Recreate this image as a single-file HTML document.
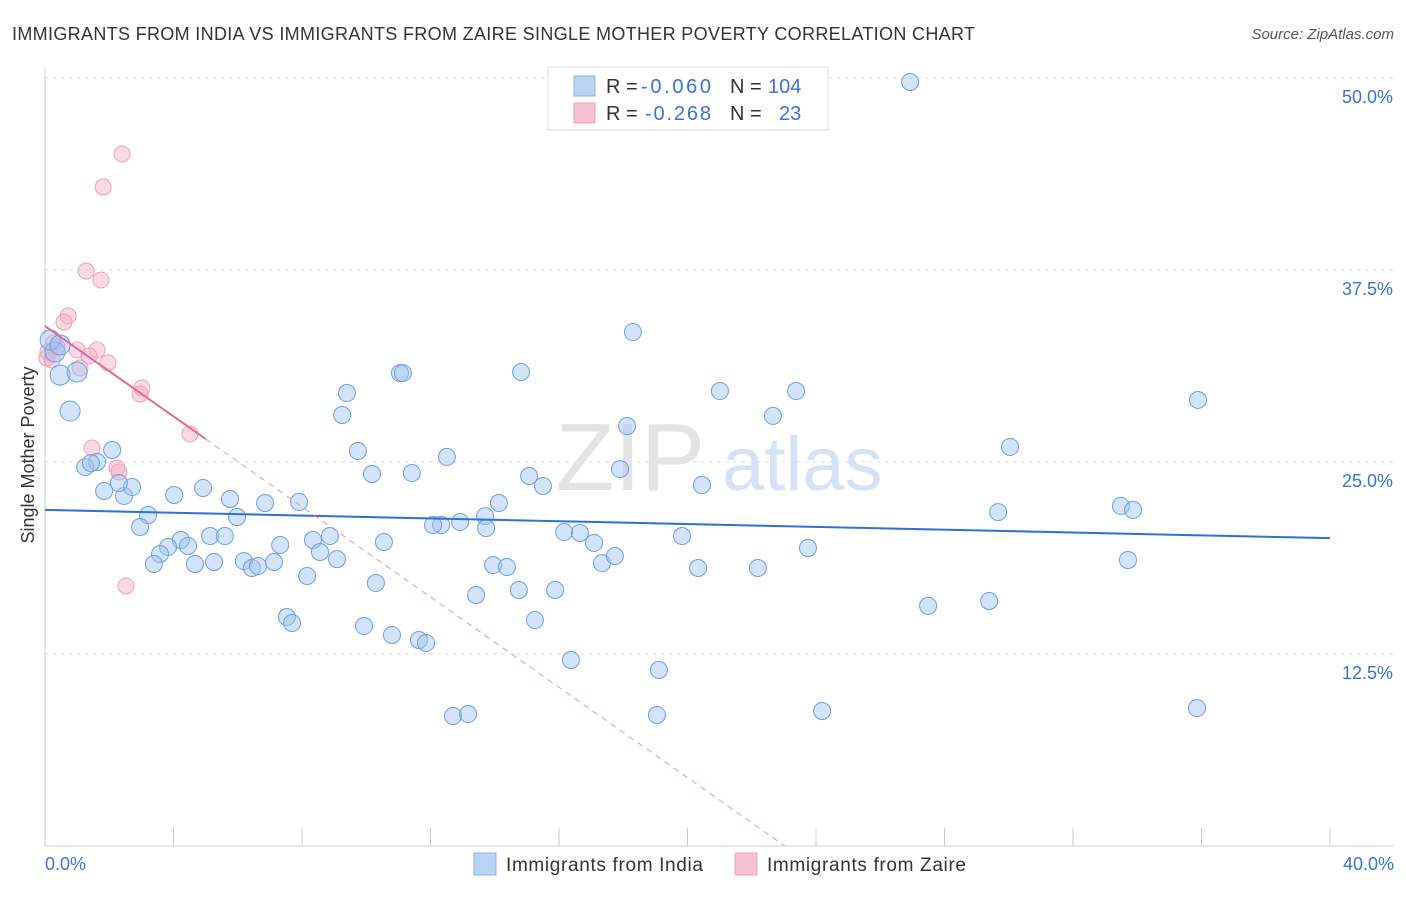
<!DOCTYPE html>
<html><head><meta charset="utf-8"><style>
body{margin:0;background:#fff;font-family:"Liberation Sans",sans-serif;}
svg text{font-family:"Liberation Sans",sans-serif;}
</style></head><body>
<svg id="chart" width="1406" height="892">
<text x="12" y="40" font-size="18" fill="#333" textLength="963">IMMIGRANTS FROM INDIA VS IMMIGRANTS FROM ZAIRE SINGLE MOTHER POVERTY CORRELATION CHART</text>
<text x="1394" y="39" font-size="15" fill="#555" font-style="italic" text-anchor="end">Source: ZipAtlas.com</text>
<g id="grid"></g>
<text x="705" y="490" font-size="96" fill="#e3e3e3" font-family="Liberation Serif" text-anchor="end">ZIP</text>
<text x="722" y="490" font-size="76" fill="#d5e2f3">atlas</text>
<g id="marks"></g>
<text x="34" y="455" font-size="18" fill="#333" transform="rotate(-90 34 455)" text-anchor="middle">Single Mother Poverty</text>
<g>
<rect x="548" y="67" width="280" height="63" fill="#fff" stroke="#ddd"/>
<rect x="574" y="76" width="21" height="20" fill="#b9d3f5" stroke="#8bb2e8"/>
<rect x="574" y="103" width="21" height="20" fill="#f7bfd2" stroke="#eca0bb"/>
<text x="606" y="93" font-size="20" fill="#333">R = <tspan fill="#3a72d4" x="641" textLength="70">-0.060</tspan><tspan x="730">N = </tspan><tspan fill="#3a72d4" x="768">104</tspan></text>
<text x="606" y="120" font-size="20" fill="#333">R = <tspan fill="#3a72d4" x="645" textLength="66">-0.268</tspan><tspan x="730">N = </tspan><tspan fill="#3a72d4" x="779">23</tspan></text>
</g>
<g>
<rect x="474" y="853" width="22" height="22" fill="#b9d3f5" stroke="#8bb2e8"/>
<text x="506" y="871" font-size="19" fill="#333" textLength="197">Immigrants from India</text>
<rect x="735" y="853" width="22" height="22" fill="#f7bfd2" stroke="#eca0bb"/>
<text x="767" y="871" font-size="19" fill="#333" textLength="199">Immigrants from Zaire</text>
</g>
</svg>
<script>
const indiaX=[26.93,18.30,11.05,11.14,14.82,21.01,23.38,9.40,9.25,22.66,35.89,18.12,9.74,12.51,30.04,17.90,10.18,11.42,15.07,15.50,20.45,2.09,1.62,1.25,1.43,1.84,2.46,2.71,2.30,4.02,4.92,5.76,6.85,7.91,14.13,13.70,12.92,12.33,12.08,13.73,3.21,2.96,5.98,16.16,16.65,17.09,19.83,29.67,33.49,33.87,4.23,5.14,5.60,3.83,4.45,3.58,3.39,4.67,5.26,6.19,6.44,6.63,7.13,7.32,8.34,8.87,8.56,9.09,10.55,8.16,10.30,13.95,14.38,13.42,14.75,15.88,17.34,17.74,20.33,22.19,23.75,33.71,7.53,7.69,9.93,10.80,11.64,11.86,15.25,27.49,29.39,16.37,19.11,12.70,13.17,19.05,24.19,35.86,0.78,0.47,1.00,0.31,0.16,0.47];
const indiaY=[49.74,33.46,30.79,30.79,30.86,29.62,29.62,29.49,28.06,28.0,29.04,27.34,25.72,25.33,25.98,24.54,24.22,24.28,24.09,23.44,23.50,25.78,25.0,24.67,24.93,23.11,22.79,23.37,23.63,22.85,23.31,22.59,22.33,22.40,22.33,21.48,21.09,20.90,20.90,20.70,21.55,20.77,21.42,20.44,20.38,19.73,20.18,21.74,22.14,21.88,19.92,20.18,20.18,19.47,19.53,19.01,18.36,18.36,18.49,18.55,18.10,18.23,18.49,19.60,19.92,20.18,19.14,18.68,19.79,17.58,17.12,18.29,18.16,16.34,16.67,16.67,18.42,18.88,18.10,18.10,19.40,18.62,14.91,14.52,14.32,13.74,13.41,13.22,14.71,15.63,15.95,12.11,11.46,8.46,8.59,8.53,8.79,8.98,28.32,30.66,30.86,32.16,32.94,32.62];
const zaireX=[2.40,1.81,1.28,1.74,0.72,0.59,0.28,0.09,0.37,1.00,1.62,1.37,1.96,1.09,3.02,2.96,4.51,1.46,2.24,2.30,2.52,0.06,0.22];
const zaireY=[45.05,42.90,37.43,36.85,34.51,34.11,32.75,32.16,32.49,32.29,32.29,31.90,31.45,31.12,29.82,29.43,26.82,25.91,24.61,24.35,16.93,31.77,31.64];
const yTicks=[12.5,25.0,37.5,50.0];
const xTickVals=[0,4,8,12,16,20,24,28,32,36,40];
const indiaTrend=[21.88,-0.046];
const zaireTrend=[33.85,-1.47];
const NS='http://www.w3.org/2000/svg';
const sx=v=>45+v*32.125, sy=v=>846-v*15.36;
function mk(t,a,p){const e=document.createElementNS(NS,t);for(const k in a)e.setAttribute(k,a[k]);p.appendChild(e);return e;}
const g=document.getElementById('grid'),m=document.getElementById('marks');
yTicks.forEach(v=>{const l=mk('line',{x1:45,x2:1394,y1:sy(v),y2:sy(v),stroke:'#ddd','stroke-dasharray':'4 4'},g);


const t=mk('text',{x:1393,y:sy(v)+25,'font-size':18,fill:'#3a72d4','text-anchor':'end'},g);t.textContent=v.toFixed(1)+'%';

});
mk('line',{x1:45,x2:1394,y1:846,y2:846,stroke:'#ccc'},g);
mk('line',{x1:45,x2:45,y1:68,y2:846,stroke:'#ccc'},g);
xTickVals.forEach(v=>{const l=mk('line',{x1:sx(v),x2:sx(v),y1:828,y2:846,stroke:'#ccc'},g);

});
[[0,'0.0%','start',45],[40,'40.0%','end',1394]].forEach(d=>{const t=mk('text',{x:d[3],y:870,'font-size':18,fill:'#3a72d4','text-anchor':d[2]},g);t.textContent=d[1];

});
zaireX.forEach((x,i)=>{const c=mk('circle',{cx:sx(x),cy:sy(zaireY[i]),r:8,fill:'rgba(244,170,196,0.45)',stroke:'#eca0bb','stroke-width':1},m);

});
indiaX.forEach((x,i)=>{const c=mk('circle',{cx:sx(x),cy:sy(indiaY[i]),r:(i>=98?10:8.5),fill:'rgba(160,195,240,0.45)',stroke:'#6d9de0','stroke-width':1},m);

});
const tb=mk('line',{x1:sx(0),y1:sy(indiaTrend[0]),x2:sx(40),y2:sy(indiaTrend[0]+40*indiaTrend[1]),stroke:'#2e6fd8','stroke-width':2},m);


const xe=-zaireTrend[0]/zaireTrend[1];
const td=mk('line',{x1:sx(5),y1:sy(zaireTrend[0]+5*zaireTrend[1]),x2:sx(xe),y2:sy(0),stroke:'#e890b0','stroke-width':1,'stroke-dasharray':'6 5'},m);


const tp=mk('line',{x1:sx(0),y1:sy(zaireTrend[0]),x2:sx(5),y2:sy(zaireTrend[0]+5*zaireTrend[1]),stroke:'#e5679a','stroke-width':2},m);


</script>
</body></html>
